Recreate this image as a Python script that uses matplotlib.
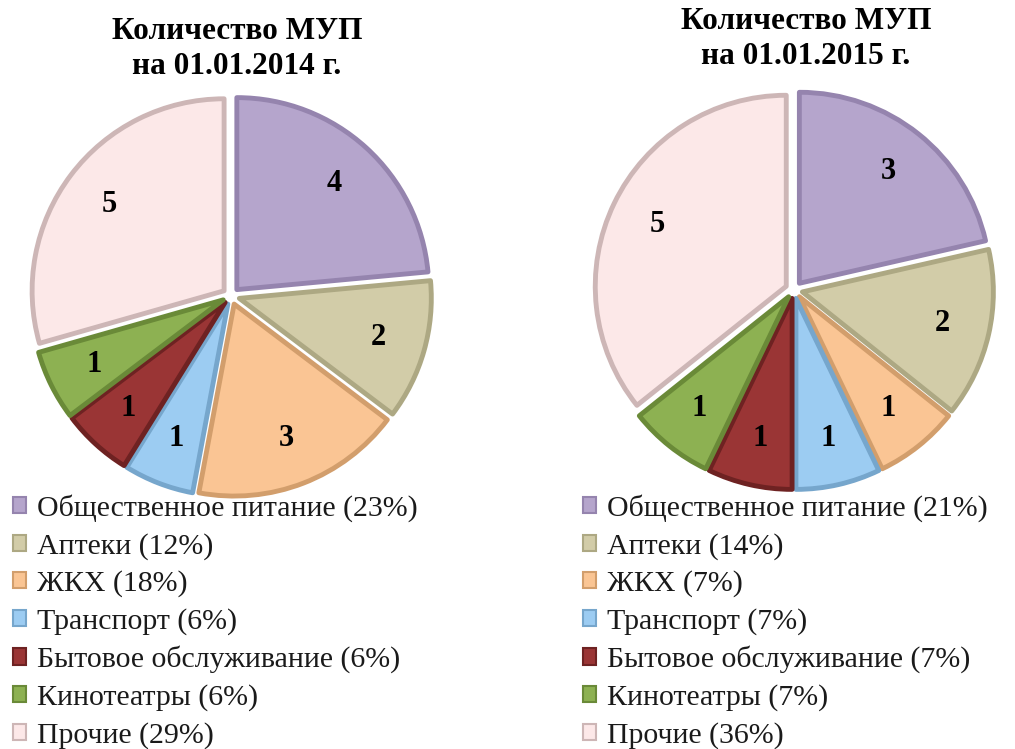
import matplotlib.pyplot as plt
from matplotlib.patches import Patch

categories = ["Общественное питание", "Аптеки", "ЖКХ", "Транспорт",
              "Бытовое обслуживание", "Кинотеатры", "Прочие"]
counts_2014 = [4, 2, 3, 1, 1, 1, 5]
counts_2015 = [3, 2, 1, 1, 1, 1, 5]
# percentages as printed in the legends
pct_2014 = [23, 12, 18, 6, 6, 6, 29]
pct_2015 = [21, 14, 7, 7, 7, 7, 36]
titles = ["Количество МУП\nна 01.01.2014 г.", "Количество МУП\nна 01.01.2015 г."]

colors = ["#B5A5CC", "#D2CCA8", "#FAC594", "#9CCCF2", "#9A3535", "#8DB152", "#FCE8E8"]
edges = ["#9584AE", "#ADA883", "#D29E6C", "#76A6CC", "#6E2222", "#6A8A38", "#CDB6B6"]

W, H = 1015, 749
fig = plt.figure(figsize=(W / 100, H / 100), dpi=100)
plt.rcParams['font.family'] = ['Liberation Serif', 'DejaVu Serif']


def pie_axes(cx, cy, R):
    half = 1.15 * R
    ax = fig.add_axes([(cx - half) / W, 1 - (cy + half) / H, 2 * half / W, 2 * half / H])
    ax.axis('off')
    return ax


def draw(ax, counts):
    total = sum(counts)
    ax.pie(counts, colors=colors, startangle=90, counterclock=False,
           explode=[0.045] * len(counts), radius=1.0,
           autopct=lambda p: str(int(round(p * total / 100))), pctdistance=0.75,
           textprops=dict(fontsize=22, fontweight='bold', color='black'))
    for w, e in zip(ax.patches, edges):
        w.set_edgecolor(e)
        w.set_linewidth(3.5)
        w.set_joinstyle('round')
    ax.set_xlim(-1.15, 1.15)
    ax.set_ylim(-1.15, 1.15)


def legend(x_px, y_px, pcts):
    handles = [Patch(facecolor=c, edgecolor=e, linewidth=1.5) for c, e in zip(colors, edges)]
    labels = [f"{name} ({p}%)" for name, p in zip(categories, pcts)]
    fig.legend(handles, labels, loc='upper left', bbox_to_anchor=(x_px / W, 1 - y_px / H),
               frameon=False, fontsize=21.5, handlelength=0.45, handleheight=0.45,
               handletextpad=0.35, labelspacing=0.36, borderpad=0, borderaxespad=0,
               labelcolor='#1a1a1a')


ax1 = pie_axes(231, 296, 192)
draw(ax1, counts_2014)
ax2 = pie_axes(794, 290, 191)
draw(ax2, counts_2015)

fig.text(237 / W, 1 - 49 / H, titles[0], ha='center', va='center', fontsize=22.5,
         fontweight='bold', linespacing=1.3)
fig.text(806 / W, 1 - 39 / H, titles[1], ha='center', va='center', fontsize=22.5,
         fontweight='bold', linespacing=1.3)

legend(13, 494, pct_2014)
legend(583, 494, pct_2015)

fig.savefig("out.png", dpi=100)
